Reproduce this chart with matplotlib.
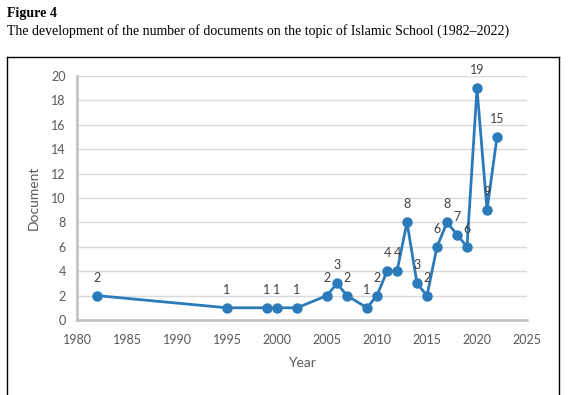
import matplotlib.pyplot as plt
from matplotlib.lines import Line2D

# data
years = [1982, 1995, 1999, 2000, 2002, 2005, 2006, 2007, 2009, 2010, 2011,
         2012, 2013, 2014, 2015, 2016, 2017, 2018, 2019, 2020, 2021, 2022]
docs = [2, 1, 1, 1, 1, 2, 3, 2, 1, 2, 4, 4, 8, 3, 2, 6, 8, 7, 6, 19, 9, 15]

blue = '#2b7bba'
grey_txt = '#595959'

fig = plt.figure(figsize=(5.72, 3.95), dpi=100)
ax = fig.add_axes([77/572, 1 - 320/395, 450/572, 244/395])

ax.plot(years, docs, color=blue, lw=2.0, marker='o', ms=6.5, zorder=3,
        clip_on=False)
for x, y in zip(years, docs):
    ax.annotate(str(y), (x, y), xytext=(0, 13), textcoords='offset points',
                ha='center', va='center', fontsize=9, color='#404040',
                family='Lato')

ax.set_xlim(1980, 2025)
ax.set_ylim(0, 20)
ax.set_xticks(range(1980, 2026, 5))
ax.set_yticks(range(0, 21, 2))
ax.grid(axis='y', color='#d9d9d9', lw=1)
ax.set_axisbelow(True)
for s in ['top', 'right']:
    ax.spines[s].set_visible(False)
for s in ['left', 'bottom']:
    ax.spines[s].set_color('#bfbfbf')
    ax.spines[s].set_linewidth(1.8)
ax.tick_params(length=0, labelsize=9, labelcolor=grey_txt)
ax.tick_params(axis='x', pad=10)
ax.tick_params(axis='y', pad=8)
for lab in ax.get_xticklabels() + ax.get_yticklabels():
    lab.set_family('Lato')
ax.set_xlabel('Year', fontsize=10, color=grey_txt, family='Lato', labelpad=8)
ax.set_ylabel('Document', fontsize=10, color=grey_txt, family='Lato', labelpad=8)

# caption above the chart
fig.text(7/572, 1 - 13/395, 'Figure 4', fontsize=10, weight='bold',
         family='Liberation Serif', va='center')
fig.text(7/572, 1 - 31/395,
         'The development of the number of documents on the topic of Islamic School (1982\u20132022)',
         fontsize=10, family='Liberation Serif', va='center')

# frame round the chart (open at the bottom of the picture)
l, r, t = 7/572, 559/572, 1 - 57/395
for xs, ys in [([l, r], [t, t]), ([l, l], [t, 0]), ([r, r], [t, 0])]:
    fig.add_artist(Line2D(xs, ys, color='black', lw=1.0,
                          transform=fig.transFigure))

fig.savefig('out.png', dpi=100)
